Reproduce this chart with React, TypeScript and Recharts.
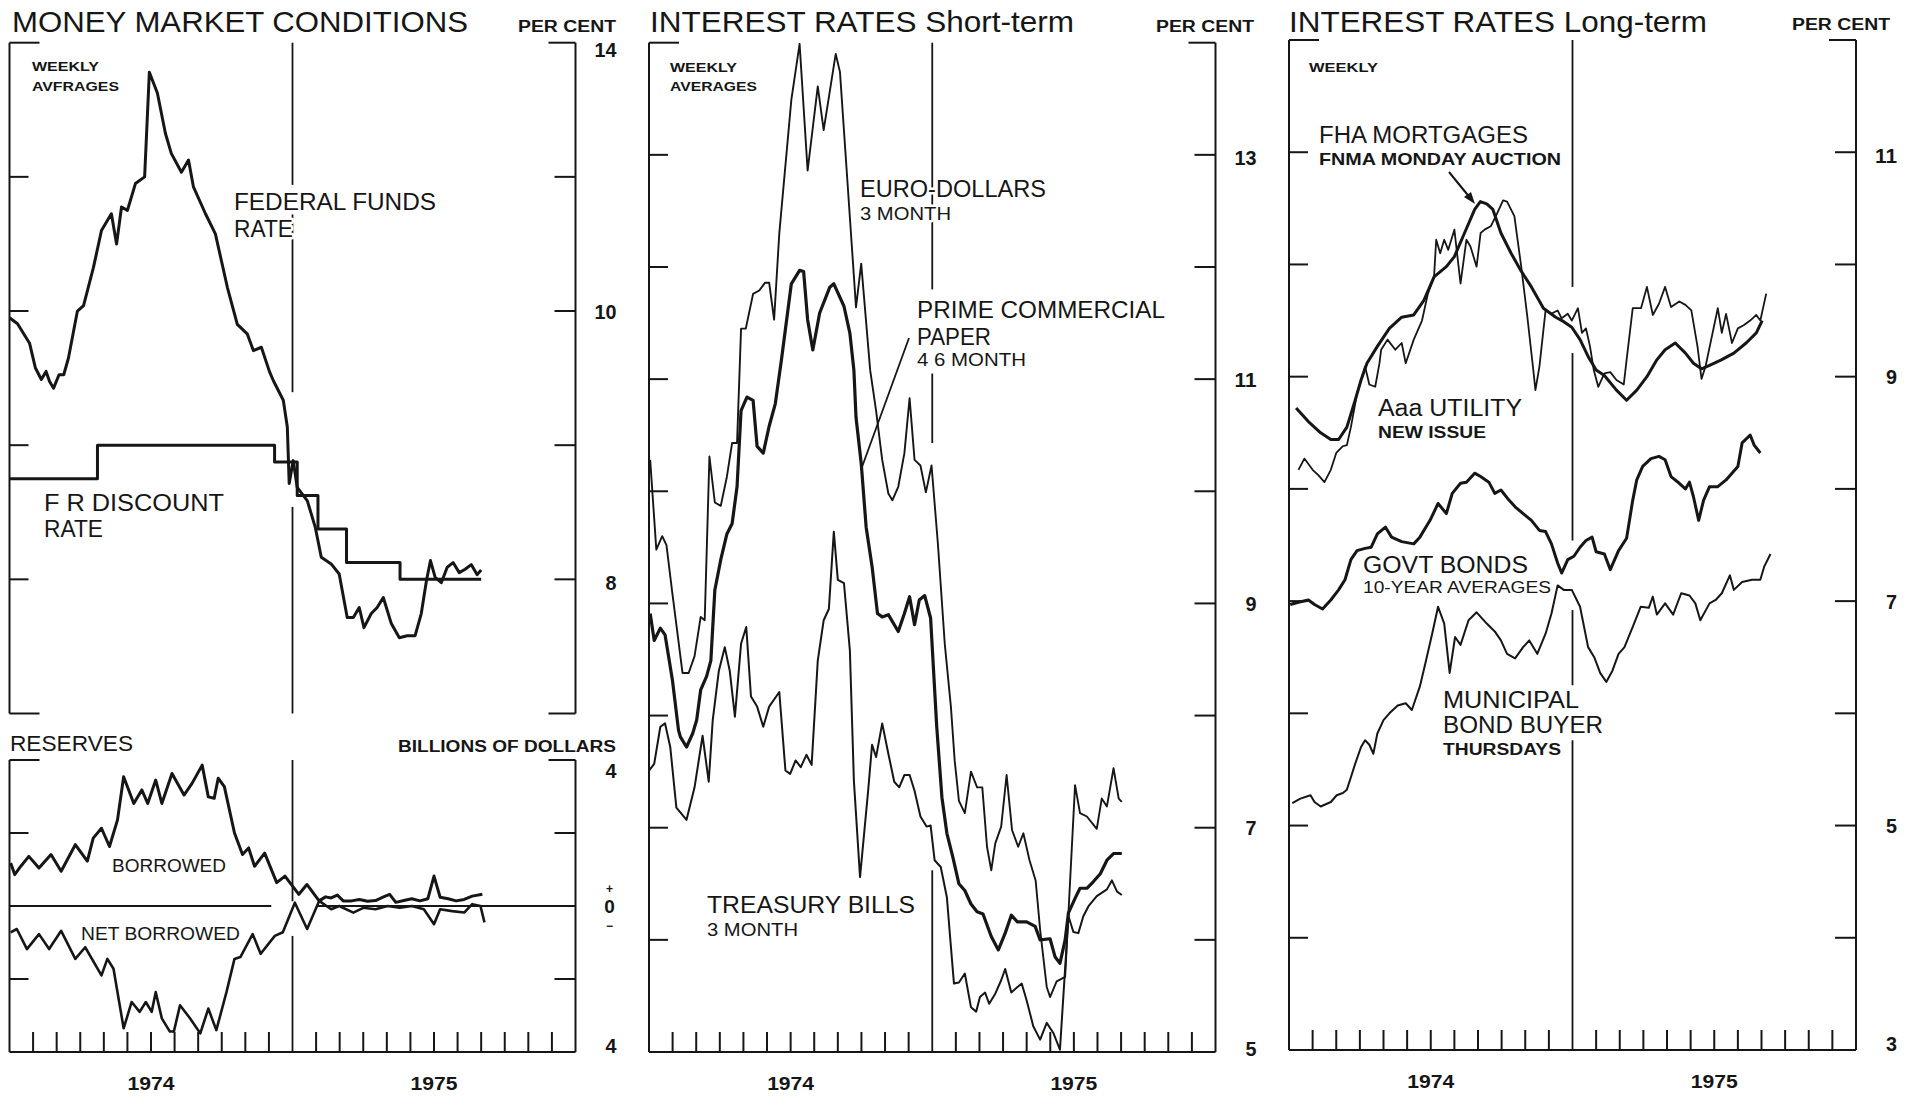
import React from 'react';
import { LineChart, Line, XAxis, YAxis, ReferenceLine } from 'recharts';

type P = [number, number];

// x = months since 1 Jan 1974, v = value
const MONTH_TICKS = [1, 2, 3, 4, 5, 6, 7, 8, 9, 10, 11, 12, 13, 14, 15, 16, 17, 18, 19, 20, 21, 22, 23];
const YEAR_LABELS: Record<number, string> = { 6: '1974', 18: '1975' };

const FED_FUNDS: P[] = [[0,9.9],[0.34,9.81],[0.85,9.52],[1.1,9.15],[1.35,8.98],[1.55,9.1],[1.7,8.95],[1.87,8.85],[2.1,9.05],[2.3,9.05],[2.5,9.3],[2.88,10.0],[3.14,10.08],[3.56,10.65],[3.9,11.2],[4.32,11.45],[4.54,11.0],[4.75,11.55],[5.0,11.5],[5.34,11.9],[5.73,12.0],[5.93,13.56],[6.27,13.25],[6.61,12.65],[6.86,12.35],[7.29,12.07],[7.59,12.25],[7.8,11.85],[8.31,11.45],[8.73,11.15],[9.24,10.35],[9.66,9.8],[10.08,9.66],[10.34,9.41],[10.68,9.46],[11.02,9.1],[11.19,8.96],[11.61,8.67],[11.78,8.27],[11.86,7.43],[12.03,7.77],[12.2,7.37],[12.63,7.17],[12.97,6.77],[13.22,6.33],[13.64,6.23],[13.98,6.08],[14.32,5.43],[14.58,5.43],[14.83,5.58],[15.03,5.28],[15.34,5.49],[15.59,5.58],[15.85,5.73],[16.19,5.34],[16.53,5.13],[16.86,5.16],[17.2,5.16],[17.46,5.49],[17.68,5.98],[17.85,6.28],[18.05,6.03],[18.31,5.95],[18.56,6.18],[18.81,6.25],[19.07,6.1],[19.32,6.15],[19.58,6.22],[19.83,6.07],[20.0,6.14]];

const DISCOUNT_RATE: P[] = [[0,7.5],[3.73,8.0],[11.24,7.75],[12.2,7.25],[13.08,6.75],[14.29,6.25],[16.56,6.0],[20.0,6.0]];

const BORROWED: P[] = [[0.05,1.18],[0.22,0.86],[0.48,1.09],[0.82,1.36],[1.25,1.04],[1.76,1.41],[2.19,0.95],[2.79,1.68],[3.3,1.23],[3.55,1.86],[3.9,2.13],[4.24,1.63],[4.58,2.36],[4.84,3.54],[5.27,2.81],[5.61,3.18],[5.86,2.81],[6.2,3.45],[6.46,2.81],[6.89,3.63],[7.4,3.04],[7.74,3.36],[8.17,3.86],[8.43,2.99],[8.68,2.95],[8.85,3.5],[9.11,3.27],[9.54,2.0],[9.88,1.41],[10.14,1.59],[10.39,1.09],[10.82,1.45],[11.33,0.64],[11.68,0.82],[12.27,0.32],[12.61,0.59],[13.13,0.14],[13.4,0.25],[13.64,0.22],[13.9,0.3],[14.15,0.14],[14.5,0.14],[14.84,0.18],[15.18,0.13],[15.52,0.15],[15.86,0.25],[16.12,0.32],[16.38,0.1],[16.72,0.15],[17.06,0.2],[17.4,0.14],[17.74,0.2],[18.0,0.82],[18.26,0.24],[18.6,0.2],[18.94,0.14],[19.28,0.18],[19.62,0.27],[20.05,0.32]];

const NET_BORROWED: P[] = [[0.05,-0.72],[0.31,-0.63],[0.74,-1.18],[1.25,-0.77],[1.68,-1.18],[2.19,-0.68],[2.79,-1.45],[3.21,-1.13],[3.9,-1.9],[4.15,-1.45],[4.41,-1.72],[4.84,-3.35],[5.18,-2.63],[5.52,-2.9],[5.78,-2.63],[6.03,-2.9],[6.2,-2.36],[6.46,-3.08],[6.8,-3.44],[6.97,-3.44],[7.23,-2.72],[7.66,-3.08],[8.09,-3.49],[8.43,-2.81],[8.77,-3.4],[9.2,-2.36],[9.54,-1.45],[9.79,-1.4],[10.31,-0.77],[10.65,-1.31],[11.25,-0.82],[11.59,-0.72],[12.1,0.09],[12.62,-0.63],[13.13,0.14],[13.64,-0.09],[13.98,0],[14.58,-0.18],[15.0,-0.05],[15.52,-0.09],[16.03,0],[16.55,-0.05],[17.06,0],[17.57,-0.09],[18.0,-0.5],[18.26,-0.09],[18.77,-0.14],[19.28,-0.18],[19.62,0.05],[19.97,0],[20.14,-0.45]];

const EURO_DOLLARS: P[] = [[0.05,10.28],[0.31,9.48],[0.56,9.6],[0.74,9.52],[0.99,9.09],[1.42,8.38],[1.68,8.38],[1.93,8.53],[2.19,8.88],[2.36,8.85],[2.56,10.31],[2.79,9.9],[3.04,9.87],[3.3,10.13],[3.52,10.43],[3.73,10.43],[3.9,11.45],[4.1,11.45],[4.41,11.76],[4.67,11.79],[4.92,11.86],[5.09,11.86],[5.3,11.53],[5.52,12.3],[6.03,13.49],[6.38,13.99],[6.72,12.86],[7.15,13.61],[7.4,13.22],[7.91,13.9],[8.09,13.74],[8.77,11.64],[8.99,12.03],[9.37,11.08],[9.62,10.72],[9.88,10.28],[10.14,9.98],[10.31,9.92],[10.56,10.04],[10.82,10.34],[11.04,10.83],[11.25,10.28],[11.5,10.23],[11.73,9.99],[11.97,10.23],[12.24,9.53],[12.53,8.64],[12.79,8.08],[12.95,7.6],[13.13,7.24],[13.38,7.13],[13.64,7.5],[13.9,7.36],[14.12,7.36],[14.32,6.83],[14.5,6.62],[14.67,6.86],[14.92,7.01],[15.15,7.47],[15.38,6.98],[15.64,6.83],[15.86,6.95],[16.12,6.71],[16.38,6.53],[16.57,6.09],[16.85,5.58],[16.99,5.49],[17.27,5.63],[17.63,5.67],[18.05,7.38],[18.26,7.13],[18.55,7.1],[18.97,6.99],[19.18,7.26],[19.4,7.19],[19.68,7.53],[19.9,7.26],[20.03,7.23]];

const COMMERCIAL_PAPER: P[] = [[0.05,8.91],[0.22,8.67],[0.48,8.78],[0.68,8.72],[0.99,8.32],[1.25,7.87],[1.33,7.81],[1.59,7.72],[1.85,7.84],[2.02,7.96],[2.19,8.23],[2.44,8.35],[2.62,8.49],[2.79,9.12],[3.04,9.39],[3.3,9.62],[3.52,9.71],[3.73,10.04],[3.9,10.72],[4.15,10.84],[4.41,10.81],[4.58,10.4],[4.84,10.34],[5.09,10.58],[5.35,10.78],[5.61,11.17],[6.03,11.85],[6.38,11.97],[6.55,11.96],[6.72,11.53],[6.94,11.26],[7.23,11.59],[7.66,11.82],[7.83,11.85],[8.26,11.65],[8.51,11.41],[8.68,11.08],[8.77,10.66],[8.99,10.25],[9.2,9.68],[9.45,9.33],[9.68,8.91],[9.88,8.88],[10.14,8.9],[10.56,8.75],[10.82,8.91],[11.04,9.06],[11.25,8.81],[11.45,9.03],[11.68,9.07],[11.93,8.87],[12.19,7.9],[12.41,7.27],[12.62,6.95],[12.87,6.74],[13.13,6.5],[13.38,6.44],[13.64,6.32],[13.9,6.25],[14.15,6.23],[14.5,6.03],[14.8,5.91],[15.09,6.06],[15.35,6.22],[15.61,6.16],[16.0,6.16],[16.36,6.12],[16.57,6.0],[16.99,6.01],[17.2,5.85],[17.41,5.79],[17.63,6.0],[17.77,6.24],[18.05,6.37],[18.26,6.46],[18.55,6.46],[18.83,6.52],[19.12,6.59],[19.4,6.71],[19.68,6.77],[20.03,6.77]];

const TREASURY_BILLS: P[] = [[0,7.51],[0.22,7.57],[0.48,7.9],[0.68,7.93],[0.9,7.72],[1.16,7.18],[1.59,7.07],[1.93,7.36],[2.27,7.82],[2.53,7.41],[2.7,7.96],[2.96,8.4],[3.21,8.61],[3.42,8.4],[3.64,7.99],[3.9,8.64],[4.12,8.79],[4.32,8.17],[4.58,8.08],[4.84,7.9],[5.09,8.08],[5.52,8.21],[5.78,7.51],[5.98,7.48],[6.21,7.6],[6.43,7.54],[6.67,7.65],[6.89,7.56],[7.15,8.49],[7.4,8.85],[7.62,8.95],[7.83,9.64],[8.0,9.21],[8.26,9.18],[8.51,8.58],[8.68,7.42],[8.94,6.56],[9.28,7.32],[9.45,7.74],[9.62,7.63],[9.88,7.93],[10.14,7.66],[10.39,7.41],[10.6,7.36],[10.82,7.47],[11.04,7.47],[11.25,7.33],[11.5,7.1],[11.76,7.01],[11.93,7.02],[12.1,6.71],[12.36,6.65],[12.62,6.38],[12.79,5.94],[12.92,5.61],[13.13,5.62],[13.38,5.7],[13.64,5.4],[13.86,5.36],[14.02,5.49],[14.24,5.53],[14.41,5.43],[14.67,5.52],[14.92,5.64],[15.09,5.74],[15.35,5.53],[15.61,5.58],[15.79,5.61],[16.0,5.46],[16.28,5.23],[16.57,5.11],[16.85,5.26],[17.13,5.17],[17.41,5.02],[17.77,6.21],[17.98,6.07],[18.19,6.06],[18.4,6.21],[18.62,6.3],[18.97,6.39],[19.4,6.45],[19.61,6.53],[19.83,6.43],[20.03,6.4]];

const FHA_MORTGAGES: P[] = [[0.3,8.72],[0.82,8.6],[1.34,8.5],[1.77,8.44],[2.1,8.44],[2.45,8.55],[2.8,8.79],[3.05,8.97],[3.3,9.12],[3.74,9.27],[4.25,9.43],[4.77,9.53],[5.28,9.55],[5.71,9.68],[6.14,9.89],[6.66,9.98],[7.0,10.07],[7.43,10.28],[7.86,10.49],[8.1,10.56],[8.37,10.54],[8.63,10.49],[8.97,10.28],[9.4,10.1],[9.83,9.94],[10.26,9.8],[10.77,9.61],[11.29,9.53],[11.63,9.49],[11.97,9.44],[12.32,9.33],[12.66,9.18],[13.0,9.06],[13.35,9.01],[13.86,8.88],[14.29,8.79],[14.72,8.88],[15.15,9.0],[15.57,9.15],[15.92,9.24],[16.35,9.3],[16.78,9.21],[17.12,9.12],[17.46,9.07],[17.8,9.1],[18.3,9.15],[18.83,9.21],[19.35,9.3],[19.78,9.39],[20.03,9.5]];

const AAA_UTILITY: P[] = [[0.4,8.17],[0.65,8.27],[1.0,8.17],[1.25,8.12],[1.5,8.06],[1.77,8.17],[2.0,8.32],[2.28,8.38],[2.45,8.39],[2.62,8.55],[2.88,8.85],[3.22,9.09],[3.4,8.93],[3.65,8.91],[3.83,9.12],[3.9,9.24],[4.17,9.33],[4.5,9.24],[4.77,9.3],[4.94,9.12],[5.28,9.33],[5.63,9.5],[5.88,9.74],[6.14,9.89],[6.23,10.22],[6.4,10.1],[6.57,10.22],[6.74,10.13],[7.0,10.31],[7.26,9.83],[7.51,10.22],[7.68,10.16],[7.94,9.98],[8.11,10.28],[8.28,10.31],[8.54,10.34],[8.8,10.45],[9.06,10.57],[9.23,10.56],[9.54,10.43],[9.83,9.98],[10.09,9.53],[10.34,9.06],[10.43,8.88],[10.6,9.09],[10.86,9.59],[11.1,9.56],[11.37,9.59],[11.54,9.52],[11.8,9.56],[11.97,9.5],[12.23,9.61],[12.4,9.39],[12.57,9.43],[12.74,9.27],[12.9,9.06],[13.09,8.91],[13.35,9.03],[13.6,9.04],[13.86,8.97],[14.17,8.93],[14.29,9.15],[14.55,9.61],[14.9,9.61],[15.15,9.8],[15.4,9.55],[15.66,9.65],[15.92,9.8],[16.17,9.62],[16.52,9.67],[16.78,9.64],[17.03,9.59],[17.29,9.27],[17.46,8.98],[17.63,9.09],[18.15,9.61],[18.32,9.39],[18.5,9.56],[18.75,9.3],[19.0,9.43],[19.26,9.46],[19.52,9.5],[19.78,9.55],[19.95,9.5],[20.2,9.74]];

const GOVT_BONDS: P[] = [[0.05,6.97],[0.4,6.99],[0.82,7.01],[1.08,6.97],[1.42,6.93],[1.77,7.01],[2.1,7.1],[2.37,7.19],[2.62,7.37],[2.88,7.45],[3.22,7.47],[3.48,7.48],[3.74,7.6],[4.08,7.66],[4.34,7.57],[4.77,7.53],[5.28,7.51],[5.54,7.57],[5.97,7.72],[6.31,7.87],[6.66,7.78],[6.91,7.96],[7.26,8.05],[7.51,8.06],[7.86,8.14],[8.11,8.11],[8.46,8.06],[8.71,7.96],[8.97,7.99],[9.31,7.9],[9.57,7.84],[9.91,7.78],[10.26,7.72],[10.6,7.63],[10.86,7.62],[11.11,7.51],[11.37,7.34],[11.54,7.25],[11.8,7.37],[12.06,7.4],[12.32,7.48],[12.57,7.54],[12.83,7.57],[13.0,7.44],[13.35,7.42],[13.6,7.28],[13.95,7.45],[14.29,7.56],[14.55,7.9],[14.72,8.08],[14.97,8.2],[15.32,8.27],[15.66,8.29],[15.92,8.26],[16.17,8.11],[16.52,8.05],[16.78,8.0],[16.95,8.06],[17.12,7.93],[17.34,7.72],[17.55,7.9],[17.8,8.02],[18.15,8.02],[18.5,8.08],[18.75,8.14],[19.0,8.2],[19.18,8.41],[19.52,8.48],[19.69,8.39],[19.95,8.32]];

const MUNICIPAL: P[] = [[0.14,5.2],[0.48,5.24],[0.91,5.27],[1.08,5.21],[1.34,5.17],[1.77,5.21],[2.02,5.27],[2.28,5.29],[2.45,5.32],[2.62,5.43],[2.8,5.55],[3.05,5.7],[3.22,5.76],[3.4,5.72],[3.57,5.64],[3.74,5.82],[4.0,5.94],[4.25,6.0],[4.6,6.07],[4.94,6.09],[5.2,6.03],[5.54,6.24],[5.8,6.47],[6.06,6.71],[6.31,6.95],[6.57,6.8],[6.8,6.36],[7.03,6.68],[7.26,6.61],[7.6,6.83],[7.94,6.9],[8.37,6.8],[8.71,6.73],[8.97,6.65],[9.23,6.53],[9.57,6.49],[9.91,6.59],[10.17,6.65],[10.51,6.53],[10.86,6.71],[11.11,6.89],[11.37,7.14],[11.63,7.1],[11.97,7.1],[12.32,6.95],[12.66,6.59],[12.92,6.5],[13.17,6.36],[13.43,6.28],[13.69,6.38],[13.95,6.53],[14.2,6.59],[14.55,6.77],[14.89,6.95],[15.23,6.94],[15.4,7.04],[15.57,6.88],[15.92,6.98],[16.26,6.88],[16.6,7.07],[16.95,7.05],[17.2,6.98],[17.41,6.83],[17.8,6.98],[18.06,7.01],[18.32,7.07],[18.66,7.23],[18.83,7.1],[19.18,7.17],[19.6,7.19],[19.95,7.19],[20.12,7.31],[20.38,7.42]];

// right-axis tick labels (as printed)
const P1A_LABELS: Record<number, string> = { 14: '14', 10: '10', 6: '8' };
const P1B_LABELS: Record<number, string> = { 4: '4', 0: '0', [-4]: '4' };
const P2_LABELS: Record<number, string> = { 13: '13', 11: '11', 9: '9', 7: '7', 5: '5' };
const P3_LABELS: Record<number, string> = { 11: '11', 9: '9', 7: '7', 5: '5', 3: '3' };

const PAGE_W = 1915;
const PAGE_H = 1097;
const INK = '#161616';
const FONT = "'Liberation Sans', Arial, Helvetica, sans-serif";
const AX = 1; // axis band width (Recharts skips axes of zero size)

type Box = { l: number; r: number; t: number; b: number };
const P1A: Box = { l: 9.5, r: 575.5, t: 42.7, b: 713.5 };
const P1B: Box = { l: 9.5, r: 575.5, t: 760, b: 1052 };
const P2: Box = { l: 649, r: 1215.5, t: 42.7, b: 1052 };
const P3: Box = { l: 1289, r: 1856, t: 40, b: 1050 };

const pts = (a: P[]) => a.map(([m, v]) => ({ m, v }));

const monthTick = (props: any) => {
  const { x, y, payload } = props;
  const v = payload.value;
  const lbl = YEAR_LABELS[v];
  return (
    <g>
      {v !== 12 && <line x1={x} x2={x} y1={y} y2={y - 20} stroke={INK} strokeWidth={2} />}
      {lbl && (
        <text x={x - 23.5} y={y + 38} fontSize={18.5} fontWeight={700} fontFamily={FONT} fill={INK}
          textLength={47} lengthAdjust="spacingAndGlyphs">{lbl}</text>
      )}
    </g>
  );
};

const leftTick = (marks: number[], stubs: number[]) => (props: any) => {
  const { x, y, payload } = props;
  const v = payload.value;
  const len = stubs.includes(v) ? 30 : marks.includes(v) ? 19 : 0;
  return <g>{len > 0 && <line x1={x} x2={x + len} y1={y} y2={y} stroke={INK} strokeWidth={2} />}</g>;
};

const rightTick = (marks: number[], stubs: number[], labels: Record<number, string>, shifts: Record<number, number>) => (props: any) => {
  const { x, y, payload } = props;
  const v = payload.value;
  const len = stubs.includes(v) ? 27 : marks.includes(v) ? 21 : 0;
  const lbl = labels[v];
  const dy = shifts[v] || 0;
  return (
    <g>
      {len > 0 && <line x1={x - len} x2={x} y1={y} y2={y} stroke={INK} strokeWidth={2} />}
      {lbl !== undefined && lbl !== '0' && (
        <text x={x + 41} y={y + dy + 7.5} textAnchor="end" fontSize={21} fontWeight={700} fontFamily={FONT} fill={INK}
          textLength={lbl.length * 11} lengthAdjust="spacingAndGlyphs">{lbl}</text>
      )}
      {lbl === '0' && (
        <g fontFamily={FONT} fontWeight={700} fill={INK} textAnchor="middle">
          <text x={x + 34} y={y - 13.5} fontSize={12}>+</text>
          <text x={x + 34} y={y + 7} fontSize={19}>0</text>
          <text x={x + 34} y={y + 24} fontSize={12}>−</text>
        </g>
      )}
    </g>
  );
};

type PanelProps = {
  box: Box;
  domain: [number, number];
  ticks: number[];
  marks: number[];
  stubs: number[];
  labels: Record<number, string>;
  shifts: Record<number, number>;
  showX: boolean;
  yearSegs: [number, number][];
  children?: React.ReactNode;
};

function Panel(p: PanelProps) {
  const { box } = p;
  return (
    <div style={{ position: 'absolute', left: 0, top: 0 }}>
      <LineChart
        width={PAGE_W}
        height={PAGE_H}
        margin={{ top: box.t, left: box.l - AX, right: PAGE_W - box.r - AX, bottom: PAGE_H - box.b - (p.showX ? AX : 0) }}
      >
        <XAxis
          xAxisId="x"
          dataKey="m"
          type="number"
          domain={[0, 24]}
          ticks={MONTH_TICKS}
          interval={0}
          hide={!p.showX}
          height={AX}
          tickSize={0}
          tickMargin={0}
          tickLine={false}
          axisLine={{ stroke: INK, strokeWidth: 2 }}
          tick={monthTick}
          allowDataOverflow
        />
        <YAxis
          yAxisId="L"
          orientation="left"
          type="number"
          domain={p.domain}
          ticks={p.ticks}
          interval={0}
          width={AX}
          tickSize={0}
          tickMargin={0}
          tickLine={false}
          axisLine={{ stroke: INK, strokeWidth: 2 }}
          tick={leftTick(p.marks, p.stubs)}
          allowDataOverflow
        />
        <YAxis
          yAxisId="R"
          orientation="right"
          type="number"
          domain={p.domain}
          ticks={p.ticks}
          interval={0}
          width={AX}
          tickSize={0}
          tickMargin={0}
          tickLine={false}
          axisLine={{ stroke: INK, strokeWidth: 2 }}
          tick={rightTick(p.marks, p.stubs, p.labels, p.shifts)}
          allowDataOverflow
        />
        {p.yearSegs.map(([a, b], i) => (
          <ReferenceLine
            key={'yr' + i}
            xAxisId="x"
            yAxisId="L"
            segment={[{ x: 12, y: a }, { x: 12, y: b }]}
            stroke={INK}
            strokeWidth={1.8}
            ifOverflow="visible"
          />
        ))}
        {p.children}
      </LineChart>
    </div>
  );
}

const series = (key: string, data: P[], w: number, type: 'linear' | 'stepAfter' = 'linear') => (
  <Line
    key={key}
    xAxisId="x"
    yAxisId="L"
    data={pts(data)}
    dataKey="v"
    type={type}
    stroke={INK}
    strokeWidth={w}
    strokeLinejoin="round"
    dot={false}
    activeDot={false}
    isAnimationActive={false}
    legendType="none"
  />
);

type Ann = { t: string; x: number; y: number; w: number; s: number; b?: boolean };
const ANNOTATIONS: Ann[] = [
  { t: 'MONEY MARKET CONDITIONS', x: 12, y: 32, w: 456, s: 30 },
  { t: 'PER CENT', x: 518, y: 32, w: 98, s: 16, b: true },
  { t: 'WEEKLY', x: 32, y: 71, w: 67, s: 13, b: true },
  { t: 'AVFRAGES', x: 32, y: 91, w: 87, s: 13, b: true },
  { t: 'FEDERAL FUNDS', x: 234, y: 210, w: 202, s: 23 },
  { t: 'RATE', x: 234, y: 237, w: 59, s: 23 },
  { t: 'F R DISCOUNT', x: 44, y: 511, w: 180, s: 23 },
  { t: 'RATE', x: 44, y: 537, w: 59, s: 23 },
  { t: 'RESERVES', x: 10, y: 751, w: 123, s: 22 },
  { t: 'BILLIONS OF DOLLARS', x: 398, y: 752, w: 218, s: 16, b: true },
  { t: 'BORROWED', x: 112, y: 872, w: 114, s: 18 },
  { t: 'NET BORROWED', x: 81, y: 940, w: 159, s: 18 },
  { t: 'INTEREST RATES Short-term', x: 650, y: 32, w: 424, s: 30 },
  { t: 'PER CENT', x: 1156, y: 32, w: 98, s: 16, b: true },
  { t: 'WEEKLY', x: 670, y: 72, w: 67, s: 13, b: true },
  { t: 'AVERAGES', x: 670, y: 91, w: 87, s: 13, b: true },
  { t: 'EURO-DOLLARS', x: 860, y: 197, w: 186, s: 23 },
  { t: '3 MONTH', x: 860, y: 220, w: 91, s: 18 },
  { t: 'PRIME COMMERCIAL', x: 917, y: 318, w: 248, s: 23 },
  { t: 'PAPER', x: 917, y: 345, w: 74, s: 23 },
  { t: '4 6 MONTH', x: 917, y: 366, w: 109, s: 18 },
  { t: 'TREASURY BILLS', x: 707, y: 913, w: 208, s: 23 },
  { t: '3 MONTH', x: 707, y: 936, w: 91, s: 18 },
  { t: 'INTEREST RATES Long-term', x: 1289, y: 32, w: 418, s: 30 },
  { t: 'PER CENT', x: 1792, y: 30, w: 98, s: 16, b: true },
  { t: 'WEEKLY', x: 1309, y: 72, w: 69, s: 13, b: true },
  { t: 'FHA MORTGAGES', x: 1319, y: 143, w: 209, s: 23 },
  { t: 'FNMA MONDAY AUCTION', x: 1319, y: 165, w: 242, s: 17, b: true },
  { t: 'Aaa UTILITY', x: 1378, y: 416, w: 144, s: 23 },
  { t: 'NEW ISSUE', x: 1378, y: 438, w: 108, s: 17, b: true },
  { t: 'GOVT BONDS', x: 1363, y: 573, w: 165, s: 23 },
  { t: '10-YEAR AVERAGES', x: 1363, y: 593, w: 188, s: 16 },
  { t: 'MUNICIPAL', x: 1443, y: 708, w: 136, s: 23 },
  { t: 'BOND BUYER', x: 1443, y: 733, w: 160, s: 23 },
  { t: 'THURSDAYS', x: 1443, y: 755, w: 118, s: 16, b: true },
];

function Overlay() {
  return (
    <svg width={PAGE_W} height={PAGE_H} style={{ position: 'absolute', left: 0, top: 0, pointerEvents: 'none' }}>
      {/* pointer from PAPER label to commercial paper line */}
      <line x1={909} y1={338} x2={862} y2={467} stroke={INK} strokeWidth={1.8} />
      {/* arrow from FHA label */}
      <line x1={1449} y1={172} x2={1471} y2={199} stroke={INK} strokeWidth={2} />
      <polygon points="1475,204 1464,197 1471,192" fill={INK} />
      {ANNOTATIONS.map((a, i) => (
        <text key={i} x={a.x} y={a.y} fontSize={a.s} fontWeight={a.b ? 700 : 400} fontFamily={FONT} fill={INK}
          stroke="#fff" strokeWidth={5} paintOrder="stroke" strokeLinejoin="round"
          textLength={a.w} lengthAdjust="spacingAndGlyphs">{a.t}</text>
      ))}
    </svg>
  );
}

export default function App() {
  return (
    <div style={{ position: 'absolute', left: 0, top: 0, width: PAGE_W, height: PAGE_H, background: '#fff', overflow: 'hidden' }}>
      <Panel
        box={P1A}
        domain={[4, 14]}
        ticks={[4, 6, 8, 10, 12, 14]}
        marks={[6, 8, 10, 12]}
        stubs={[4, 14]}
        labels={P1A_LABELS}
        shifts={{ 14: 7, 6: 3 }}
        showX={false}
        yearSegs={[[14, 11.88], [11.44, 8.79], [7.08, 4]]}
      >
        {series('disc', DISCOUNT_RATE, 3, 'stepAfter')}
        {series('ff', FED_FUNDS, 3)}
      </Panel>
      <Panel
        box={P1B}
        domain={[-4, 4]}
        ticks={[-4, -2, 0, 2, 4]}
        marks={[-2, 2]}
        stubs={[4]}
        labels={P1B_LABELS}
        shifts={{ 4: 10, [-4]: -7 }}
        showX={true}
        yearSegs={[[4, 0.13], [-0.82, -4]]}
      >
        <ReferenceLine key="z1" xAxisId="x" yAxisId="L" segment={[{ x: 0, y: 0 }, { x: 11.1, y: 0 }]} stroke={INK} strokeWidth={2} ifOverflow="visible" />
        <ReferenceLine key="z2" xAxisId="x" yAxisId="L" segment={[{ x: 13, y: 0 }, { x: 24, y: 0 }]} stroke={INK} strokeWidth={2} ifOverflow="visible" />
        {series('bor', BORROWED, 3)}
        {series('net', NET_BORROWED, 2.6)}
      </Panel>
      <Panel
        box={P2}
        domain={[5, 14]}
        ticks={[5, 6, 7, 8, 9, 10, 11, 12, 13, 14]}
        marks={[6, 7, 8, 9, 10, 11, 12, 13]}
        stubs={[14]}
        labels={P2_LABELS}
        shifts={{ 13: 3, 5: -4 }}
        showX={true}
        yearSegs={[[14, 11.8], [11.05, 10.43], [6.62, 5]]}
      >
        {series('euro', EURO_DOLLARS, 1.9)}
        {series('cp', COMMERCIAL_PAPER, 3.2)}
        {series('tb', TREASURY_BILLS, 2)}
      </Panel>
      <Panel
        box={P3}
        domain={[3, 12]}
        ticks={[3, 4, 5, 6, 7, 8, 9, 10, 11, 12]}
        marks={[4, 5, 6, 7, 8, 9, 10, 11]}
        stubs={[12]}
        labels={P3_LABELS}
        shifts={{ 11: 3, 3: -7 }}
        showX={true}
        yearSegs={[[12, 9.8], [9.21, 7.54], [6.92, 6.25], [5.76, 3]]}
      >
        {series('aaa', AAA_UTILITY, 1.8)}
        {series('fha', FHA_MORTGAGES, 3)}
        {series('govt', GOVT_BONDS, 3)}
        {series('muni', MUNICIPAL, 2)}
      </Panel>
      <Overlay />
    </div>
  );
}
